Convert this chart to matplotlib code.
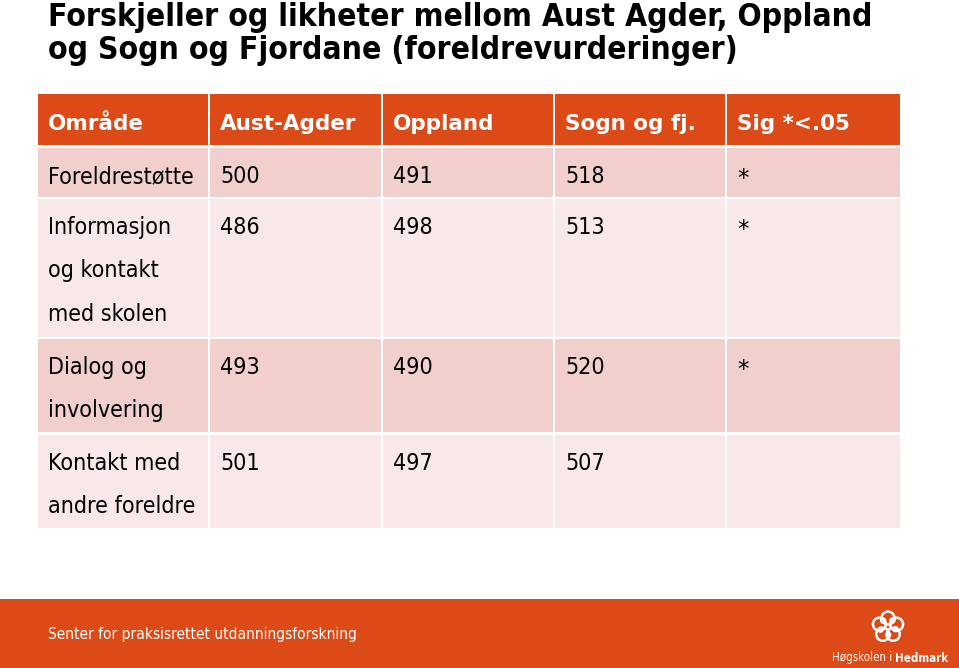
import matplotlib
matplotlib.use("Agg")
import matplotlib.pyplot as plt
import numpy as np
from matplotlib import font_manager as fm
from matplotlib.patches import Rectangle, Circle
from matplotlib.font_manager import FontProperties

# ---------------- data ----------------
title_lines = ["Forskjeller og likheter mellom Aust Agder, Oppland",
               "og Sogn og Fjordane (foreldrevurderinger)"]
columns = ["Område", "Aust-Agder", "Oppland", "Sogn og fj.", "Sig *<.05"]
row_labels = ["Foreldrestøtte",
              "Informasjon\nog kontakt\nmed skolen",
              "Dialog og\ninvolvering",
              "Kontakt med\nandre foreldre"]
aust_agder = [500, 486, 493, 501]
oppland = [491, 498, 490, 497]
sogn_fj = [518, 513, 520, 507]
sig = ["*", "*", "*", ""]
footer_text = "Senter for praksisrettet utdanningsforskning"
logo_text_a = "Høgskolen i "
logo_text_b = "Hedmark"

# ---------------- style ----------------
ORANGE = "#DC4A17"
ROW_A = "#F0CFCD"
ROW_B = "#F8E8E7"

ttf = fm.fontManager.ttflist
names = {f.name for f in ttf}


def narrow_font(bold=False):
    w = "bold" if bold else "normal"
    for f in ttf:
        if f.name == "DejaVu Sans" and f.stretch == "condensed" and \
                ((f.weight in ("bold", 700)) == bold):
            return FontProperties(family="DejaVu Sans", stretch="condensed", weight=w)
    for c in ["Liberation Sans Narrow", "Roboto Condensed", "Open Sans Condensed"]:
        if c in names:
            return FontProperties(family=c, weight=w)
    return FontProperties(family="DejaVu Sans", weight=w)


body_fp = narrow_font(False)
title_fp = narrow_font(True)
head_fp = FontProperties(family="DejaVu Sans", weight="bold")

W, H = 959, 668
fig = plt.figure(figsize=(W / 100, H / 100), dpi=100)
ax = fig.add_axes([0, 0, 1, 1])
ax.set_xlim(0, W)
ax.set_ylim(H, 0)
ax.axis("off")
renderer = fig.canvas.get_renderer()


def fit(txt, target_w):
    bb = txt.get_window_extent(renderer)
    s = txt.get_fontsize() * target_w / bb.width
    txt.set_fontsize(s)
    return s


# ---------------- title ----------------
t1 = ax.text(48, 26, title_lines[0], fontproperties=title_fp, fontsize=22,
             va="baseline", ha="left", color="black")
ts = fit(t1, 820)
ax.text(48, 59.5, title_lines[1], fontproperties=title_fp, fontsize=ts,
        va="baseline", ha="left", color="black")

# ---------------- table ----------------
col_edges = [38, 210, 383, 555, 727, 900]
head_top, head_bot = 94, 145
line_gap = 43.5
base_off = 35
gap = 2.5

# header
for j, c in enumerate(columns):
    x0, x1 = col_edges[j], col_edges[j + 1]
    ax.add_patch(Rectangle((x0, head_top), x1 - x0 - (gap if j < len(columns) - 1 else 0),
                           head_bot - head_top, facecolor=ORANGE, edgecolor="none"))
probe = ax.text(0, 0, columns[0], fontproperties=head_fp, fontsize=16)
hs = fit(probe, 96)
probe.remove()
for j, c in enumerate(columns):
    ax.text(col_edges[j] + 10, 130, c, fontproperties=head_fp,
            fontsize=hs, color="white", va="baseline", ha="left")

# body font size
probe = ax.text(0, 0, row_labels[0], fontproperties=body_fp, fontsize=17)
bs = fit(probe, 145)
probe.remove()

values = [list(map(str, aust_agder)), list(map(str, oppland)),
          list(map(str, sogn_fj)), sig]
top = head_bot + 3
for i, lab in enumerate(row_labels):
    lines = lab.split("\n")
    h = 51 + (len(lines) - 1) * 44.5
    color = ROW_A if i % 2 == 0 else ROW_B
    for j in range(len(columns)):
        x0, x1 = col_edges[j], col_edges[j + 1]
        ax.add_patch(Rectangle((x0, top), x1 - x0 - (gap if j < len(columns) - 1 else 0),
                               h - gap, facecolor=color, edgecolor="none"))
    for k, ln in enumerate(lines):
        ax.text(col_edges[0] + 10, top + base_off + k * line_gap, ln,
                fontproperties=body_fp, fontsize=bs, va="baseline", ha="left", color="black")
    for j, col in enumerate(values):
        v = col[i]
        if not v:
            continue
        if v == "*":
            ax.text(col_edges[j + 1] + 10, top + base_off + 3, v, fontproperties=body_fp,
                    fontsize=bs * 1.1, va="baseline", ha="left", color="black")
        else:
            ax.text(col_edges[j + 1] + 10, top + base_off, v, fontproperties=body_fp,
                    fontsize=bs, va="baseline", ha="left", color="black")
    top += h

# ---------------- footer ----------------
ax.add_patch(Rectangle((0, 599), W, H - 599, facecolor=ORANGE, edgecolor="none"))
ft = ax.text(48, 635, footer_text, fontproperties=body_fp, fontsize=12,
             color="white", va="center", ha="left")
fit(ft, 309)

# logo
cx, cy = 888, 627
for a in np.linspace(0, 2 * np.pi, 6)[:-1]:
    px, py = cx + 9 * np.sin(a), cy - 9 * np.cos(a)
    ax.add_patch(Circle((px, py), 6.5, facecolor="none", edgecolor="white", lw=1.8))
    ax.add_patch(Circle((cx + 8 * np.sin(a + 0.6), cy - 8 * np.cos(a + 0.6)), 2.3,
                        facecolor="none", edgecolor="white", lw=1.2))
la = ax.text(832, 658, logo_text_a, fontproperties=body_fp, fontsize=8.3,
             color="white", va="center", ha="left")
fig.canvas.draw()
bb = la.get_window_extent(renderer)
lb_fp = body_fp.copy()
lb_fp.set_weight("bold")
x_next = ax.transData.inverted().transform((bb.x1, 0))[0]
ax.text(x_next, 658, logo_text_b, fontproperties=lb_fp, fontsize=8.3,
        color="white", va="center", ha="left")

fig.savefig("out.png", dpi=100)
